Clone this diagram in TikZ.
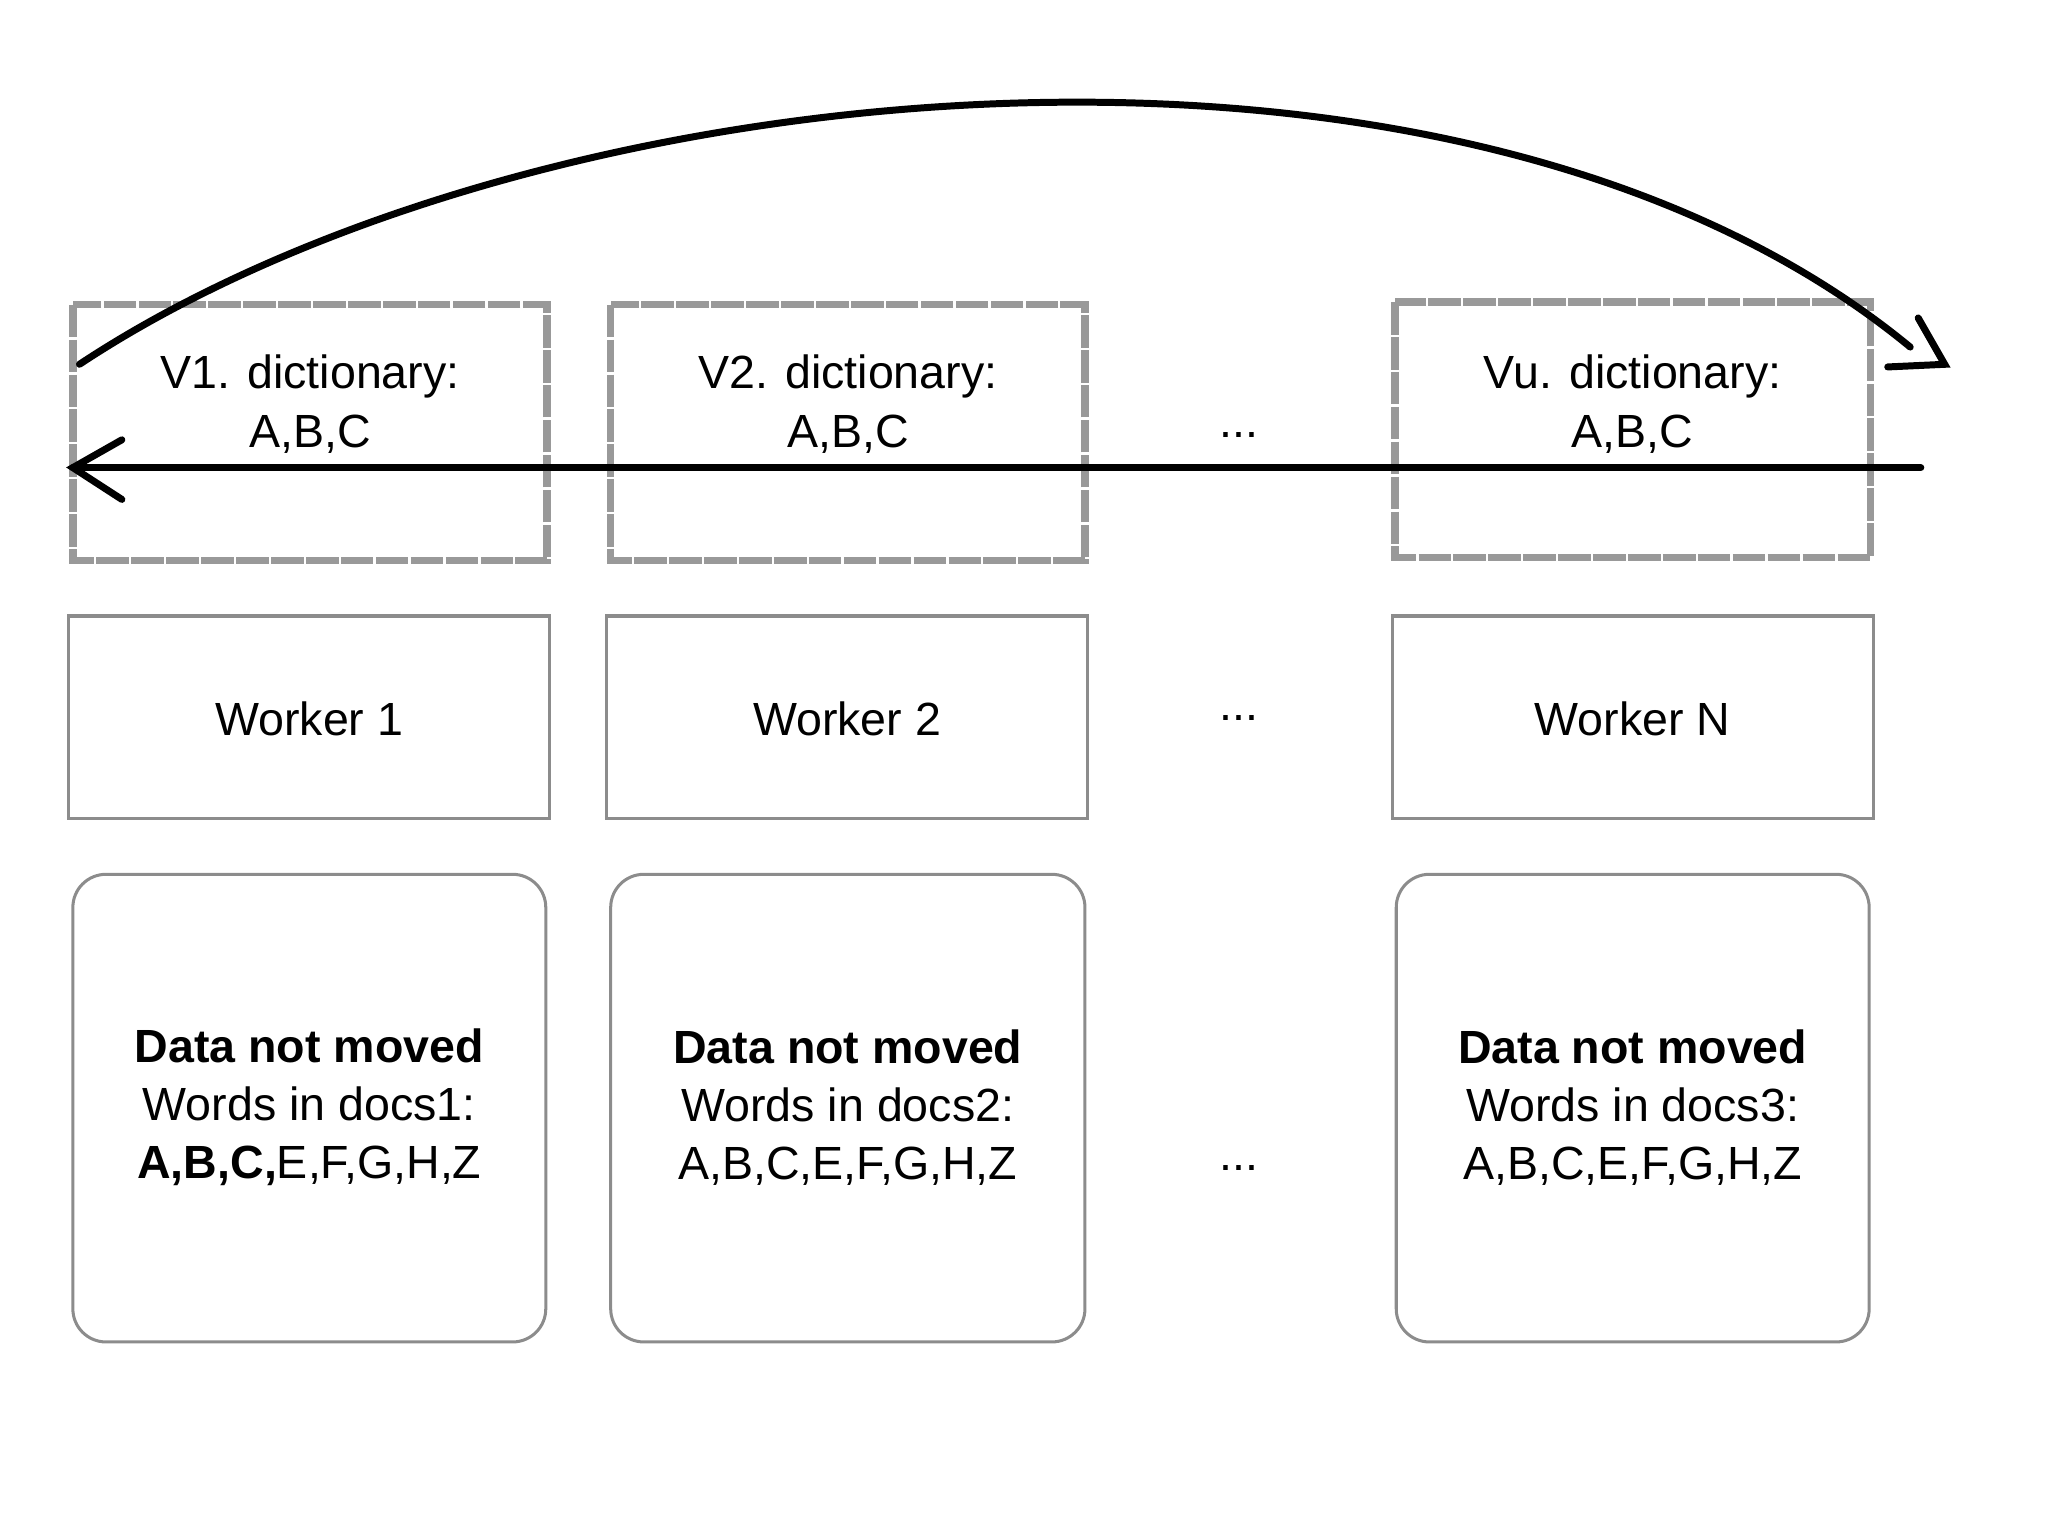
\documentclass[tikz,border=0pt]{standalone}
\usepackage{fontspec}
\setmainfont{Liberation Sans}
\begin{document}
\begin{tikzpicture}[x=0.02cm,y=-0.02cm,
  dict/.style={draw=gray!80,line width=3.2pt,dash pattern=on 14pt off 1pt},
  work/.style={draw=gray!90,line width=1.3pt},
  data/.style={draw=gray!90,line width=1.3pt,rounded corners=0.5cm},
  txt/.style={font=\fontsize{20}{25}\selectfont,align=center},
  arr/.style={line width=3pt,line cap=round}]
\useasboundingbox (0,0) rectangle (1546,1160);
\foreach \n/\a/\b/\ya/\yb/\lab in {d1/55/413/230/423/V1, d2/461/819/230/423/V2, d3/1053/1412/228/421/Vu}{
  \draw[dict] (\a,\ya) rectangle (\b,\yb);
  \node[txt] (\n) at ({(\a+\b)/2},305) {\lab. dictionary:\\A,B,C};
}
\foreach \n/\a/\b/\lab in {w1/52/415/Worker 1, w2/458/821/Worker 2, w3/1051/1414/Worker N}{
  \draw[work] (\a,465) rectangle (\b,618);
  \node[txt] (\n) at ({(\a+\b)/2},543) {\lab};
}
\foreach \n/\a/\b/\k in {x1/55/412/1, x2/461/819/2, x3/1054/1411/3}{
  \draw[data] (\a,660) rectangle (\b,1013);
}
\node[txt] (t1) at (233.5,836) {\textbf{Data not moved}\\Words in docs1:\\\textbf{A,B,C,}E,F,G,H,Z};
\node[txt] (t2) at (640,836) {\textbf{Data not moved}\\Words in docs2:\\A,B,C,E,F,G,H,Z};
\node[txt] (t3) at (1232.5,836) {\textbf{Data not moved}\\Words in docs3:\\A,B,C,E,F,G,H,Z};
\node[txt] (e1) at (935,328) {...};
\node[txt] (e2) at (935,542) {...};
\node[txt] (e3) at (935,882) {...};
\coordinate (cs) at (60,275);
\coordinate (ce) at (1442,262);
\draw[arr] (cs) .. controls (400,50) and (1100,-20) .. (ce);
\draw[arr] (1425,277) -- (1468,275) -- (1448,240);
\coordinate (ls) at (1450,353);
\coordinate (le) at (55,353);
\draw[arr] (ls) -- (le);
\draw[arr] (92,332) -- (55,353) -- (92,377);
\end{tikzpicture}
\end{document}
